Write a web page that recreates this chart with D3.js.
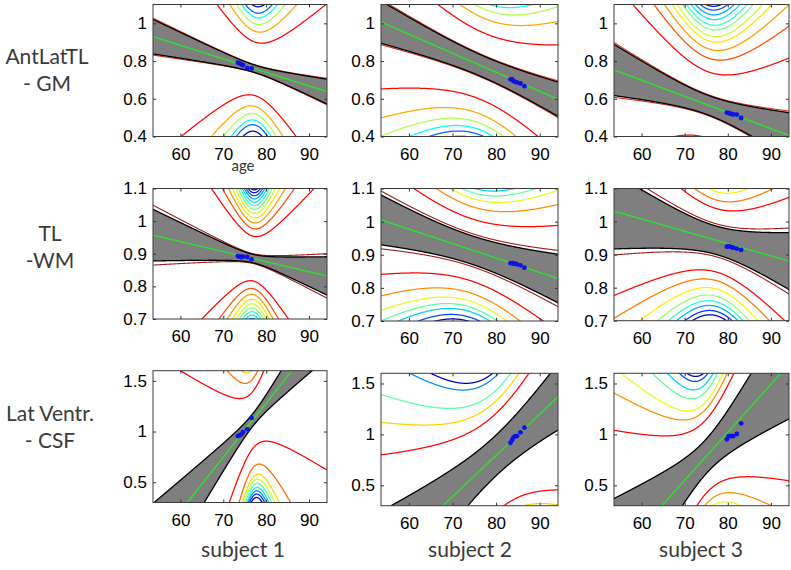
<!DOCTYPE html>
<html><head><meta charset="utf-8">
<script src="https://cdn.jsdelivr.net/npm/d3@7"></script>
<style>body{margin:0;background:#fff} svg{display:block}</style>
</head><body><svg id="c" width="791" height="570"></svg>
<script>
// ---------- data ----------
const ageDomain = [53.6, 94.2];
const ageTicks = [60, 70, 80, 90];
const rowLabels = [["AntLatTL", "- GM"], ["TL", "-WM"], ["Lat Ventr.", "- CSF"]];
const subjectLabels = ["subject 1", "subject 2", "subject 3"];
const valueDomains = [[0.4, 1.1], [0.7, 1.1], [0.3, 1.6]];
const valueTicks = [[0.4, 0.6, 0.8, 1], [0.7, 0.8, 0.9, 1, 1.1], [0.5, 1, 1.5]];

// ages of each subject's scans (one list per column)
const subjectAges = [
  [73.4, 73.8, 74.2, 74.6, 75.6, 76.6],
  [83.3, 83.7, 84.0, 84.4, 84.8, 85.6, 86.5],
  [79.8, 80.2, 80.6, 80.9, 81.3, 82.1, 83.1]
];
// measured values [row][col][scan]
const subjectValues = [
  [[0.792, 0.788, 0.783, 0.779, 0.762, 0.761],
   [0.703, 0.703, 0.694, 0.690, 0.687, 0.681, 0.667],
   [0.527, 0.524, 0.521, 0.519, 0.517, 0.516, 0.498]],
  [[0.893, 0.891, 0.890, 0.891, 0.890, 0.883],
   [0.875, 0.875, 0.873, 0.873, 0.871, 0.868, 0.861],
   [0.924, 0.925, 0.924, 0.922, 0.921, 0.918, 0.914]],
  [[0.955, 0.962, 0.972, 0.995, 1.022, 1.134],
   [0.918, 0.945, 0.971, 0.984, 0.984, 1.020, 1.066],
   [0.952, 0.984, 0.984, 0.984, 0.984, 1.004, 1.109]]
];

// fitted trajectory per panel [row][col]
const centerAge   = [[77.5, 77.0, 75.35], [77.0, 74.3, 77.4], [76.9, 80.0, 75.0]];
const centerValue = [[0.758, 0.771, 0.567], [0.885, 0.915, 0.943], [1.115, 0.794, 0.785]];
const slope       = [[-0.00718, -0.01007, -0.00855], [-0.00308, -0.00436, -0.00372], [0.0533, 0.0405, 0.0471]];
const spreadScale = [[5.34, 13.8, 9.02], [3.9, 14.4, 9.66], [3.5, 11.0, 6.4]];   // years
const bandHalf    = [[0.020, 0.057, 0.052], [0.013, 0.043, 0.043], [0.062, 0.20, 0.17]];

// contour levels (half-distance at the centre age), above and below the trajectory
const upperLevels = [
  [[0.142, 0.199, 0.239, 0.273, 0.298, 0.332],
   [0.180, 0.258, 0.307, 0.342, 0.369, 0.395],
   [0.177, 0.250, 0.299, 0.342, 0.371, 0.405, 0.430, 0.459, 0.484, 0.509, 0.529, 0.548]],
  [[0.0686, 0.0920, 0.110, 0.1253, 0.1389, 0.1513, 0.1628, 0.1735, 0.1836, 0.1932, 0.2024, 0.2112],
   [0.094, 0.131, 0.156, 0.174, 0.188, 0.205, 0.218],
   [0.096, 0.122, 0.147, 0.169, 0.186, 0.200, 0.215, 0.228]],
  [[0.281, 0.405, 0.499, 0.58, 0.64, 0.69, 0.73, 0.77, 0.80],
   [0.413, 0.536, 0.641, 0.781, 0.836],
   [0.362, 0.467, 0.538, 0.640, 0.718, 0.794, 0.840]]
];
const lowerLevels = [
  [[0.142, 0.199, 0.239, 0.273, 0.298, 0.332],
   [0.180, 0.258, 0.307, 0.342, 0.369, 0.395],
   [0.177, 0.250, 0.299, 0.342, 0.371, 0.405, 0.430, 0.459, 0.484, 0.509, 0.529, 0.548]],
  [[0.0686, 0.0920, 0.110, 0.1253, 0.1389, 0.1513, 0.1628, 0.1735, 0.1836, 0.1932, 0.2024, 0.2112],
   [0.094, 0.131, 0.156, 0.174, 0.188, 0.205, 0.218],
   [0.096, 0.122, 0.147, 0.169, 0.186, 0.200, 0.215, 0.228]],
  [[0.281, 0.474, 0.566, 0.613, 0.654, 0.692, 0.724, 0.755, 0.788],
   [0.560, 0.65, 0.75, 0.80, 0.85],
   [0.362, 0.467, 0.538, 0.640, 0.718, 0.794, 0.840]]
];

// ---------- layout ----------
const colX = [[153, 327], [381, 558], [614, 789]];
const panelTop = [[4.5, 4.5, 4.5], [188.5, 188.5, 188.5], [370.7, 373.3, 373.3]];
const panelBottom = [[136.5, 136.5, 136.5], [319, 321, 320.7], [502.5, 505.7, 505.7]];
const edgeStyle = [{f: 1.07, color: "#e02a1a"}, {f: 1.16, color: "#a01c1c"}, null];

const svg = d3.select("#c");
const defs = svg.append("defs");
const tickFont = "'Liberation Sans', Arial, Helvetica, sans-serif";
const labelFont = "Lato, 'Open Sans', sans-serif";

function jet(t) {
  const c = v => Math.max(0, Math.min(1, v));
  return d3.rgb(255 * c(1.5 - Math.abs(4 * t - 3)), 255 * c(1.5 - Math.abs(4 * t - 2)), 255 * c(1.5 - Math.abs(4 * t - 1))).formatHex();
}

const ages = d3.range(ageDomain[0] - 0.5, ageDomain[1] + 0.55, 0.05);

for (let r = 0; r < 3; r++) {
  for (let c = 0; c < 3; c++) {
    const top = panelTop[r][c], bottom = panelBottom[r][c];
    const x = d3.scaleLinear().domain(ageDomain).range(colX[c]);
    const y = d3.scaleLinear().domain(valueDomains[r]).range([bottom, top]);
    const id = `clip${r}${c}`;
    defs.append("clipPath").attr("id", id).append("rect")
      .attr("x", colX[c][0]).attr("y", top).attr("width", colX[c][1] - colX[c][0]).attr("height", bottom - top);

    const g = svg.append("g");
    const plot = g.append("g").attr("clip-path", `url(#${id})`);
    plot.append("rect").attr("x", colX[c][0]).attr("y", top)
      .attr("width", colX[c][1] - colX[c][0]).attr("height", bottom - top).attr("fill", "#fff");

    const x0 = centerAge[r][c], y0 = centerValue[r][c], b = slope[r][c], L = spreadScale[r][c];
    const mid = a => y0 + b * (a - x0);
    const spread = a => Math.sqrt(1 + ((a - x0) / L) ** 2);
    const clampV = v => Math.max(valueDomains[r][0] - 2, Math.min(valueDomains[r][1] + 2, v));
    const curve = (D, s) => d3.line().x(a => x(a)).y(a => y(clampV(mid(a) + s * D * spread(a))))(ages);

    // contour lines (jet colours, red nearest the trajectory)
    [[upperLevels[r][c], 1], [lowerLevels[r][c], -1]].forEach(([lv, s]) => {
      const n = lv.length;
      lv.forEach((D, i) => {
        const t = 0.87 - 0.81 * (n > 1 ? i / (n - 1) : 0);
        plot.append("path").attr("d", curve(D, s)).attr("fill", "none")
          .attr("stroke", jet(t)).attr("stroke-width", 1.25);
      });
    });

    const Db = bandHalf[r][c];
    const es = edgeStyle[r];
    if (es) {
      [1, -1].forEach(s => plot.append("path").attr("d", curve(Db * es.f, s))
        .attr("fill", "none").attr("stroke", es.color).attr("stroke-width", 1.1));
    }
    // confidence band
    const area = d3.area().x(a => x(a))
      .y0(a => y(clampV(mid(a) - Db * spread(a))))
      .y1(a => y(clampV(mid(a) + Db * spread(a))));
    plot.append("path").attr("d", area(ages)).attr("fill", "#7f7f7f");
    [1, -1].forEach(s => plot.append("path").attr("d", curve(Db, s))
      .attr("fill", "none").attr("stroke", "#000").attr("stroke-width", 1.3));
    // trajectory
    plot.append("path").attr("d", d3.line().x(a => x(a)).y(a => y(clampV(mid(a))))(ages))
      .attr("fill", "none").attr("stroke", "#2ee22e").attr("stroke-width", 1.4);
    // subject points
    plot.selectAll("circle.pt").data(subjectAges[c].map((a, i) => [a, subjectValues[r][c][i]]))
      .join("circle").attr("class", "pt")
      .attr("cx", d => x(d[0])).attr("cy", d => y(d[1])).attr("r", 2.4).attr("fill", "#1010e8");

    // axes (inward ticks, mirrored)
    const fmt = d => String(+d.toFixed(2));
    const ax = g.append("g").attr("transform", `translate(0,${bottom})`)
      .call(d3.axisBottom(x).tickValues(ageTicks).tickSize(-3).tickPadding(11).tickFormat(fmt));
    const axT = g.append("g").attr("transform", `translate(0,${top})`)
      .call(d3.axisTop(x).tickValues(ageTicks).tickSize(-3).tickFormat(""));
    const ay = g.append("g").attr("transform", `translate(${colX[c][0]},0)`)
      .call(d3.axisLeft(y).tickValues(valueTicks[r]).tickSize(-3).tickPadding(6).tickFormat(fmt));
    const ayR = g.append("g").attr("transform", `translate(${colX[c][1]},0)`)
      .call(d3.axisRight(y).tickValues(valueTicks[r]).tickSize(-3).tickFormat(""));
    [ax, axT, ay, ayR].forEach(a => {
      a.attr("font-family", tickFont).attr("font-size", 17);
      a.select(".domain").remove();
      a.selectAll("line").attr("stroke", "#333");
      a.selectAll("text").attr("fill", "#000");
    });
    g.append("rect").attr("x", colX[c][0]).attr("y", top)
      .attr("width", colX[c][1] - colX[c][0]).attr("height", bottom - top)
      .attr("fill", "none").attr("stroke", "#3a3a3a").attr("stroke-width", 1);
  }
}

// "age" label under first panel
svg.append("text").attr("x", 243).attr("y", 171).attr("text-anchor", "middle")
  .attr("font-family", labelFont).attr("font-size", 15).attr("fill", "#333").text("age");

// row labels
const rowLabelPos = [[47, 64, 91], [50, 241, 268], [50, 421, 448]];
rowLabels.forEach((lines, r) => {
  lines.forEach((t, i) => {
    svg.append("text").attr("x", rowLabelPos[r][0]).attr("y", rowLabelPos[r][1 + i])
      .attr("text-anchor", "middle").attr("font-family", labelFont).attr("font-size", 21)
      .attr("fill", "#3a3a3a").text(t);
  });
});
// column labels
const subjectX = [243, 470, 701];
subjectLabels.forEach((t, c) => {
  svg.append("text").attr("x", subjectX[c]).attr("y", 557).attr("text-anchor", "middle")
    .attr("font-family", labelFont).attr("font-size", 21).attr("fill", "#3a3a3a").text(t);
});
</script>
</body></html>
